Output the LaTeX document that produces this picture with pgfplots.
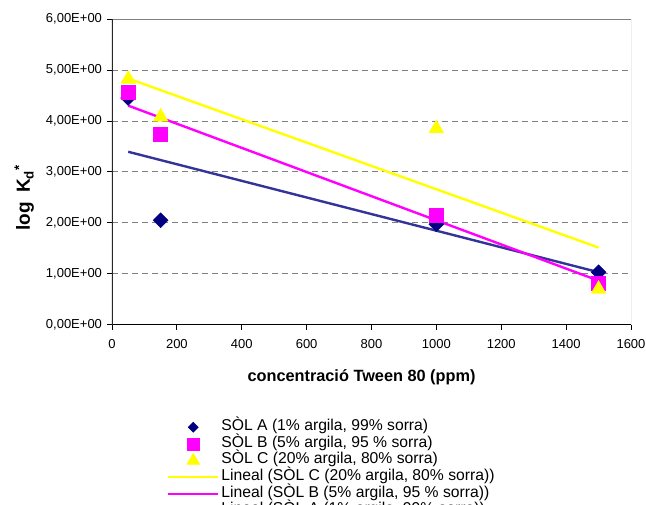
\documentclass[border=0pt]{standalone}
\usepackage{pgfplots}
\pgfplotsset{compat=1.18}
\usepackage{fontspec}
\setmainfont{Liberation Sans}
\definecolor{navyA}{HTML}{000080}
\definecolor{trendA}{HTML}{333399}
\definecolor{magB}{HTML}{FF00FF}
\definecolor{yelC}{HTML}{FFFF00}
\begin{document}
\begin{tikzpicture}
\begin{axis}[
  scale only axis, width=519pt, height=305.7pt,
  at={(112pt,179.3pt)}, anchor=south west,
  xmin=0, xmax=1600, ymin=0, ymax=6,
  xtick={0,200,400,600,800,1000,1200,1400,1600},
  xticklabels={0,200,400,600,800,1000,1200,1400,1600},
  ytick={0,1,2,3,4,5,6},
  yticklabels={{0,00E+00},{1,00E+00},{2,00E+00},{3,00E+00},{4,00E+00},{5,00E+00},{6,00E+00}},
  axis line style={draw=none},
  tick align=outside, xtick pos=bottom, ytick pos=left,
  major tick length=5pt, tick style={black, line width=0.8pt},
  ymajorgrids, grid style={gray, dash pattern=on 6pt off 4pt, line width=0.8pt},
  tick label style={font=\fontsize{13}{15}\selectfont},
  xticklabel style={yshift=-6pt},
  yticklabel style={xshift=-1.5pt},
  legend style={at={(rel axis cs:0.106,-0.3075)}, anchor=north west, draw=none, fill=none,
    inner sep=0pt, row sep=0pt, column sep=2pt,
    nodes={inner sep=0pt, text height=11.5pt, text depth=5.2pt},
    font=\fontsize{15.7}{18}\selectfont},
  legend cell align=left,
  legend image code/.code={\draw[mark repeat=2,mark phase=2,#1] plot coordinates {(0pt,0pt) (25pt,0pt) (50pt,0pt)};},
]
\addplot[trendA, line width=2.4pt, forget plot] coordinates {(50,3.394) (1500,1.030)};
\addplot[magB, line width=2.4pt, forget plot] coordinates {(50,4.30) (1500,0.864)};
\addplot[yelC, line width=2.4pt, forget plot] coordinates {(50,4.833) (1500,1.514)};
\addplot[only marks, mark=square*, mark size=5.3pt, mark options={rotate=45, fill=navyA, draw=navyA}, forget plot] coordinates {(50,4.45) (150,2.05) (1000,1.97) (1500,1.03)};
\addplot[only marks, mark=square*, mark size=7pt, mark options={fill=magB, draw=magB}, forget plot] coordinates {(50,4.57) (150,3.74) (1000,2.15) (1500,0.82)};
\addplot[only marks, mark=triangle*, mark size=8.5pt, mark options={fill=yelC, draw=yelC}, forget plot] coordinates {(50,4.82) (150,4.08) (1000,3.85) (1500,0.70)};
\addlegendimage{only marks, mark=square*, mark size=3.6pt, mark options={rotate=45, fill=navyA, draw=navyA}}
\addlegendentry{SÒL A (1\% argila, 99\% sorra)}
\addlegendimage{only marks, mark=square*, mark size=5.8pt, mark options={fill=magB, draw=magB}}
\addlegendentry{SÒL B (5\% argila, 95 \% sorra)}
\addlegendimage{only marks, mark=triangle*, mark size=7.5pt, mark options={fill=yelC, draw=yelC}}
\addlegendentry{SÒL C (20\% argila, 80\% sorra)}
\addlegendimage{yelC, line width=2.2pt}
\addlegendentry{Lineal (SÒL C (20\% argila, 80\% sorra))}
\addlegendimage{magB, line width=2.2pt}
\addlegendentry{Lineal (SÒL B (5\% argila, 95 \% sorra))}
\addlegendimage{trendA, line width=2.2pt}
\addlegendentry{Lineal (SÒL A (1\% argila, 99\% sorra))}
\draw[gray, line width=1pt] (rel axis cs:0,1) -- (rel axis cs:1,1) -- (rel axis cs:1,0);
\draw[black, line width=1.2pt] (rel axis cs:0,0) -- (rel axis cs:1,0);
\draw[black!85, line width=1.6pt] (rel axis cs:0,0) -- (rel axis cs:0,1);
\end{axis}
\node[rotate=90, anchor=base west, font=\bfseries\fontsize{19}{22}\selectfont] at (30pt,270pt) {log\hspace{9pt}K\textsubscript{d}\textsuperscript{*}};
\node[anchor=base west, font=\bfseries\fontsize{16.3}{19}\selectfont] at (244pt,122pt) {concentració Tween 80 (ppm)};
\pgfresetboundingbox
\path (0,0) rectangle (646pt,504pt);
\end{tikzpicture}
\end{document}
